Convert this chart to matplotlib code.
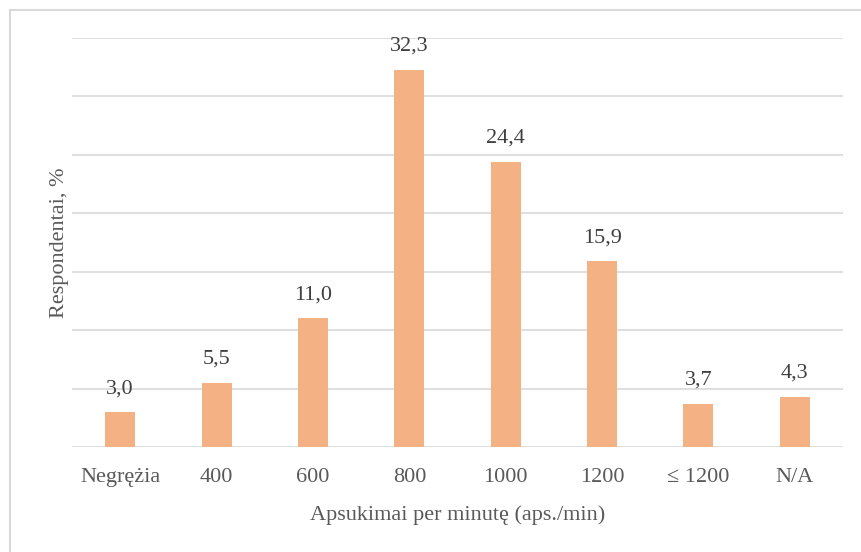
import matplotlib
matplotlib.use('Agg')
import matplotlib.pyplot as plt
from matplotlib.lines import Line2D
import numpy as np

categories = ['Negrężia', '400', '600', '800', '1000', '1200', '≤ 1200', 'N/A']
values = [3.0, 5.5, 11.0, 32.3, 24.4, 15.9, 3.7, 4.3]
value_labels = ['3,0', '5,5', '11,0', '32,3', '24,4', '15,9', '3,7', '4,3']

text_col = '#595959'
serif = ['Liberation Serif', 'DejaVu Serif']

fig = plt.figure(figsize=(8.61, 5.52), dpi=100)
ax = fig.add_axes([72 / 861, 1 - 447 / 552, (843 - 72) / 861, (447 - 38) / 552])

x = np.arange(len(categories))
ax.bar(x, values, width=0.31, color='#F4B183', zorder=3)

for xi, v, lab in zip(x, values, value_labels):
    ax.annotate(lab, (xi, v), xytext=(0, 10), textcoords='offset points',
                ha='center', va='bottom', fontsize=16, color='#404040', family=serif)

ax.set_xlim(-0.5, len(categories) - 0.5)
ax.set_ylim(0, 35)
ax.set_yticks(np.arange(0, 36, 5))
ax.set_yticklabels([])
ax.grid(axis='y', color='#D9D9D9', linewidth=1.2, zorder=0)
ax.tick_params(length=0)
for s in ax.spines.values():
    s.set_visible(False)

ax.set_xticks(x)
ax.set_xticklabels(categories, fontsize=16, color=text_col, family=serif)
ax.tick_params(axis='x', pad=15)

ax.set_xlabel('Apsukimai per minutę (aps./min)', fontsize=16, color=text_col,
              family=serif, labelpad=13)
ax.set_ylabel('Respondentai, %', fontsize=16, color=text_col,
              family=serif, labelpad=-1)

# frame round the chart area (left and top edges visible)
fig.add_artist(Line2D([10 / 861, 10 / 861], [0, 1 - 10 / 552], color='#D9D9D9', lw=1.5))
fig.add_artist(Line2D([10 / 861, 1], [1 - 10 / 552, 1 - 10 / 552], color='#D9D9D9', lw=1.5))

fig.savefig('out.png', dpi=100)
